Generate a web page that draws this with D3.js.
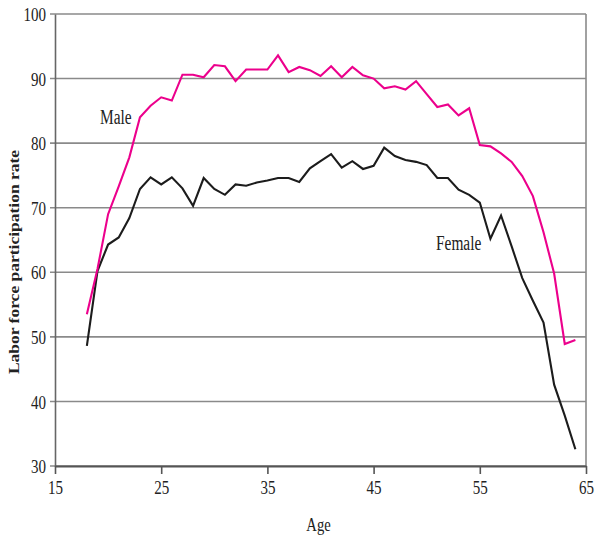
<!DOCTYPE html>
<html>
<head>
<meta charset="utf-8">
<script src="https://cdn.jsdelivr.net/npm/d3@7"></script>
<style>
  body { margin: 0; background: #fff; }
  svg text { font-family: "Liberation Serif", "Times New Roman", serif; fill: #222; }
</style>
</head>
<body>
<svg id="chart"></svg>
<script>
(() => {
  const ages = d3.range(18, 65);

  const male = [
    53.5, 60.5, 69.0, 73.3, 77.8, 84.0, 85.8, 87.1, 86.6, 90.6,
    90.6, 90.2, 92.1, 91.9, 89.6, 91.4, 91.4, 91.4, 93.6, 91.0,
    91.8, 91.3, 90.4, 91.9, 90.2, 91.8, 90.5, 90.0, 88.5, 88.8,
    88.3, 89.6, 87.6, 85.6, 86.0, 84.3, 85.4, 79.7, 79.5, 78.4,
    77.1, 74.9, 71.8, 66.2, 59.8, 48.9, 49.5
  ];

  const female = [
    48.6, 60.2, 64.3, 65.4, 68.4, 72.9, 74.7, 73.6, 74.7, 73.0,
    70.3, 74.6, 72.9, 72.0, 73.6, 73.4, 73.9, 74.2, 74.6, 74.6,
    74.0, 76.1, 77.2, 78.3, 76.2, 77.2, 76.0, 76.5, 79.3, 78.0,
    77.4, 77.1, 76.6, 74.6, 74.6, 72.8, 72.0, 70.8, 65.2, 68.8,
    64.0, 59.1, 55.6, 52.2, 42.6, 37.8, 32.6
  ];

  const xTicks = [15, 25, 35, 45, 55, 65];
  const yTicks = [30, 40, 50, 60, 70, 80, 90, 100];

  const width = 598, height = 540;
  const margin = { top: 14, right: 12, bottom: 74, left: 55 };
  const innerW = width - margin.left - margin.right;
  const innerH = height - margin.top - margin.bottom;

  // the source picture is squeezed sideways, so the text is too
  const SQUEEZE = 0.77;

  const svg = d3.select("#chart")
    .attr("width", width)
    .attr("height", height)
    .append("g")
    .attr("transform", `translate(${margin.left},${margin.top})`);

  const x = d3.scaleLinear().domain([15, 65]).range([0, innerW]);
  const y = d3.scaleLinear().domain([30, 100]).range([innerH, 0]);

  // grid lines
  svg.append("g")
    .selectAll("line")
    .data(yTicks)
    .join("line")
    .attr("x1", -5)
    .attr("x2", innerW)
    .attr("y1", d => y(d))
    .attr("y2", d => y(d))
    .attr("stroke", "#8a8a8a")
    .attr("stroke-width", 1.6);

  // right frame line
  svg.append("line")
    .attr("x1", innerW).attr("x2", innerW)
    .attr("y1", 0).attr("y2", innerH)
    .attr("stroke", "#8a8a8a")
    .attr("stroke-width", 1.6);

  const yAxis = d3.axisLeft(y).tickValues(yTicks).tickSize(0).tickPadding(0);
  svg.append("g")
    .call(yAxis)
    .call(g => g.select(".domain").attr("stroke", "#666").attr("stroke-width", 1.6))
    .call(g => g.selectAll(".tick text")
      .attr("x", -9 / SQUEEZE)
      .attr("dy", "0.34em")
      .attr("transform", `scale(${SQUEEZE},1)`)
      .style("font-size", "19.5px")
      .style("font-family", "'Liberation Serif', serif")
      .attr("fill", "#222"));

  const xAxis = d3.axisBottom(x).tickValues(xTicks).tickSize(8).tickSizeOuter(0).tickPadding(6);
  svg.append("g")
    .attr("transform", `translate(0,${innerH})`)
    .call(xAxis)
    .call(g => g.select(".domain").attr("stroke", "#555").attr("stroke-width", 2))
    .call(g => g.selectAll(".tick line").attr("stroke", "#555").attr("stroke-width", 1.6))
    .call(g => g.selectAll(".tick text")
      .attr("transform", `scale(${SQUEEZE},1)`)
      .style("font-size", "19.5px")
      .style("font-family", "'Liberation Serif', serif")
      .attr("fill", "#222"));

  const line = d3.line()
    .x((d, i) => x(ages[i]))
    .y(d => y(d));

  svg.append("path")
    .datum(female)
    .attr("fill", "none")
    .attr("stroke", "#1c1c1c")
    .attr("stroke-width", 2.1)
    .attr("stroke-linejoin", "miter")
    .attr("d", line);

  svg.append("path")
    .datum(male)
    .attr("fill", "none")
    .attr("stroke", "#ec008c")
    .attr("stroke-width", 2.1)
    .attr("stroke-linejoin", "miter")
    .attr("d", line);

  function squeezedText(tx, ty, str, size, anchor) {
    return svg.append("text")
      .attr("transform", `translate(${tx},${ty}) scale(${SQUEEZE},1)`)
      .attr("text-anchor", anchor || "start")
      .style("font-size", size + "px")
      .text(str);
  }

  squeezedText(45, 110, "Male", 20);
  squeezedText(381, 236, "Female", 20);
  squeezedText(innerW / 2 - 2, 517, "Age", 19, "middle");

  svg.append("text")
    .attr("transform", `translate(-36,${248}) rotate(-90) scale(1,0.8)`)
    .attr("text-anchor", "middle")
    .style("font-size", "17.5px")
    .style("font-weight", "bold")
    .text("Labor force participation rate");
})();
</script>
</body>
</html>
